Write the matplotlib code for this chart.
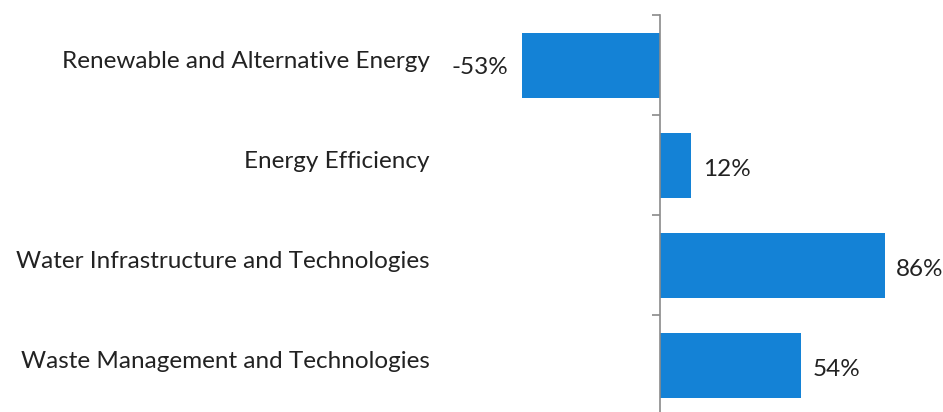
import matplotlib
matplotlib.use('Agg')
import matplotlib.pyplot as plt
import matplotlib.transforms as mtransforms
import numpy as np

# data, top to bottom
categories = ['Renewable and Alternative Energy', 'Energy Efficiency',
              'Water Infrastructure and Technologies', 'Waste Management and Technologies']
values = [-53, 12, 86, 54]

plt.rcParams['font.family'] = ['Lato', 'DejaVu Sans']

fig = plt.figure(figsize=(9.43, 4.12), dpi=100)
ax = fig.add_axes([440 / 943, -3 / 412, 503 / 943, 400 / 412])

y = np.arange(len(categories))
ax.barh(y, values, height=0.65, color='#1482d6')

ax.set_xlim(-84.3, 108.4)
ax.set_ylim(len(categories) - 0.5, -0.5)

# value labels
for yi, v in zip(y, values):
    if v < 0:
        ax.text(v - 5, yi + 0.03, f'{v}%', ha='right', va='center', fontsize=17.5, color='#222222')
    else:
        ax.text(v + 4.5, yi + 0.04, f'{v}%', ha='left', va='center', fontsize=17.5, color='#222222')

# axis at zero
for s in ['top', 'right', 'bottom']:
    ax.spines[s].set_visible(False)
ax.spines['left'].set_position(('data', 0))
ax.spines['left'].set_color('#8a8a8a')
ax.spines['left'].set_linewidth(1.2)
ax.set_xticks([])

ax.set_yticks(y)
ax.set_yticklabels(categories, fontsize=17.5, color='#222222')
ax.tick_params(axis='y', which='major', length=0, pad=166)
ax.set_yticks(np.arange(-0.5, len(categories)), minor=True)
ax.tick_params(axis='y', which='minor', length=6, width=1.2, color='#8a8a8a')

# category labels sit a little above the bar centres
shift = mtransforms.ScaledTranslation(0, 5 / 100, fig.dpi_scale_trans)
for lbl in ax.get_yticklabels():
    lbl.set_transform(lbl.get_transform() + shift)

fig.savefig('out.png', dpi=100)
